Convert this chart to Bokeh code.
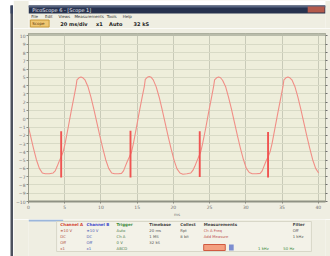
from bokeh.plotting import figure
from bokeh.models import Range1d, LinearAxis, FixedTicker, BoxAnnotation, ColumnDataSource
from bokeh.layouts import row, column
from bokeh.embed import file_html
from bokeh.resources import INLINE
from bokeh.core.properties import value

# ---------------- data ----------------
time_ms = [
    0.00, 0.41, 0.68, 1.09, 1.50, 1.91, 2.32, 2.87,
    3.41, 3.69, 3.96, 4.23, 4.51, 4.78, 5.05, 5.46, 5.87, 6.28, 6.56, 6.69, 6.97, 7.24,
    7.51, 7.79, 8.20, 8.61, 9.02, 9.43, 9.84, 10.25, 10.66, 11.07, 11.48, 11.89, 12.43,
    12.84, 13.12, 13.39, 13.66, 13.94, 14.21, 14.48, 14.89, 15.30, 15.71, 15.99, 16.12, 16.40, 16.67,
    16.94, 17.22, 17.63, 18.04, 18.45, 18.86, 19.27, 19.68, 20.09, 20.50, 20.91, 21.32, 21.86,
    22.41, 22.69, 22.96, 23.23, 23.51, 23.78, 24.05, 24.46, 24.87, 25.28, 25.56, 25.69, 25.97, 26.24,
    26.51, 26.79, 27.20, 27.61, 28.02, 28.43, 28.84, 29.25, 29.66, 30.07, 30.48, 30.89, 31.43,
    31.98, 32.26, 32.53, 32.80, 33.08, 33.35, 33.62, 34.03, 34.44, 34.85, 35.13, 35.26, 35.54, 35.81,
    36.08, 36.36, 36.77, 37.18, 37.59, 38.00, 38.41, 38.82, 39.23, 39.64, 40.05,
]
volts = [
    -1.0, -2.55, -3.55, -4.95, -6.0, -6.55, -6.65, -6.65,
    -6.55, -6.3, -5.75, -5.15, -4.6, -4.0, -3.0, -1.15, 0.8, 2.65, 3.9, 4.7, 4.95, 5.05,
    4.95, 4.7, 3.9, 2.65, 1.15, -0.45, -2.05, -3.55, -4.95, -6.0, -6.55, -6.65, -6.65,
    -6.6, -6.3, -5.7, -5.1, -4.6, -4.05, -3.0, -1.1, 0.85, 2.7, 3.9, 4.75, 5.0, 5.1,
    5.0, 4.7, 3.85, 2.6, 1.1, -0.5, -2.1, -3.6, -5.0, -6.05, -6.55, -6.7, -6.65,
    -6.55, -6.25, -5.75, -5.15, -4.55, -4.0, -2.95, -1.15, 0.8, 2.65, 3.95, 4.7, 4.95, 5.05,
    4.95, 4.65, 3.9, 2.6, 1.15, -0.45, -2.05, -3.55, -4.9, -6.0, -6.5, -6.65, -6.65,
    -6.6, -6.3, -5.7, -5.1, -4.6, -4.0, -3.0, -1.1, 0.8, 2.65, 3.9, 4.7, 4.95, 5.05,
    4.95, 4.7, 3.9, 2.65, 1.15, -0.45, -2.05, -3.55, -4.95, -6.0, -6.55,
]
spike_time = [4.51, 14.08, 23.64, 33.07]
spike_high = [-1.5, -1.45, -1.5, -1.6]
spike_low = [-7.1, -7.1, -7.05, -7.1]

x_ticks = [0, 5, 10, 15, 20, 25, 30, 35, 40]
y_ticks = [-10, -9, -8, -7, -6, -5, -4, -3, -2, -1, 0, 1, 2, 3, 4, 5, 6, 7, 8, 9, 10]

title_text = "PicoScope 6 - [Scope 1]"
menu_items = ["File", "Edit", "Views", "Measurements", "Tools", "Help"]
toolbar_items = ["20 ms/div", "x1", "Auto", "32 kS"]

panel_headers = ["Channel A", "Channel B", "Trigger", "Timebase", "Collect", "Measurements", "Filter"]
panel_header_colors = ["#d2402e", "#4048c8", "#3c8a3c", "#444444", "#444444", "#444444", "#444444"]
panel_rows = [
    ["±10 V", "DC", "Off", "x1"],
    ["±10 V", "DC", "Off", "x1"],
    ["Auto", "Ch A", "0 V", "ABCD"],
    ["20 ms", "1 MS", "32 kS", ""],
    ["Rpt", "8 bit", "", ""],
    ["Ch A  Freq", "Add Measure", "", ""],
    ["Off", "1 kHz", "", ""],
]

assert len(time_ms) == len(volts)

WIN_BG = "#efeee2"
PLOT_BG = "#eeeedb"
FONT = value("DejaVu Sans")
TOTAL_H = 256

# ---------------- left window border ----------------
left = figure(width=13, height=TOTAL_H, x_range=Range1d(0, 13), y_range=Range1d(TOTAL_H, 0),
              output_backend="svg", toolbar_location=None, min_border=0,
              x_axis_location=None, y_axis_location=None,
              background_fill_color="white", border_fill_color="white", outline_line_color=None)
left.grid.visible = False
left.quad(left=[10], right=[13], top=[5], bottom=[TOTAL_H], fill_color="#4d525e", line_color=None)
left.quad(left=[10], right=[13], top=[5], bottom=[13], fill_color="#3a4560", line_color=None)

# ---------------- title / menu / toolbar ----------------
W = 317
TH = 28
top = figure(width=W, height=TH, x_range=Range1d(0, W), y_range=Range1d(TH, 0),
             output_backend="svg", toolbar_location=None, min_border=0,
             x_axis_location=None, y_axis_location=None,
             background_fill_color=WIN_BG, border_fill_color=WIN_BG, outline_line_color=None)
top.grid.visible = False
top.quad(left=[0], right=[W], top=[0], bottom=[5], fill_color="white", line_color=None)
top.quad(left=[0], right=[W], top=[5], bottom=[13], fill_color="#27324e", line_color=None)
top.quad(left=[0], right=[W], top=[5], bottom=[7], fill_color="#56637f", line_color=None)
top.quad(left=[298], right=[316], top=[6], bottom=[12], fill_color="#b45a4c", line_color=None)
top.text(x=[4], y=[9.3], text=[title_text], text_font=FONT, text_font_size="5px",
         text_color="#e8ecf4", text_baseline="middle")
mx, cur = [], 3.0
for m in menu_items:
    mx.append(cur)
    cur += len(m) * 2.5 + 4.5
top.text(x=mx, y=[15.8] * len(menu_items), text=menu_items, text_font=FONT, text_font_size="4px",
         text_color="#333333", text_baseline="middle")
top.quad(left=[2], right=[22], top=[19.5], bottom=[26.5], fill_color="#efc772", line_color="#c89a3a")
top.text(x=[4], y=[23], text=["Scope"], text_font=FONT, text_font_size="4px",
         text_color="#5a3a10", text_baseline="middle")
tx = [34, 72, 86, 112]
top.text(x=tx, y=[23] * 4, text=toolbar_items, text_font=FONT, text_font_size="5px",
         text_font_style="bold", text_color="#222222", text_baseline="middle")

# ---------------- main scope view ----------------
main = figure(width=W, height=191, x_range=Range1d(0, 41), y_range=Range1d(-10, 10.3),
              output_backend="svg", toolbar_location=None,
              min_border_left=12, min_border_right=5, min_border_top=5, min_border_bottom=12,
              background_fill_color=PLOT_BG, border_fill_color=WIN_BG,
              outline_line_color="#a9ab9a", outline_line_width=1)

for ax in (main.xaxis[0], main.yaxis[0]):
    ax.major_label_text_font = "DejaVu Sans"
    ax.major_label_text_color = "#707070"
    ax.major_tick_out = 2
    ax.major_tick_in = 0
    ax.minor_tick_out = 0
    ax.minor_tick_in = 0
    ax.major_tick_line_color = "#8a8a80"
    ax.major_label_standoff = 1

main.yaxis.ticker = FixedTicker(ticks=y_ticks)
main.yaxis.major_label_text_font_size = "4.5px"
main.yaxis.axis_line_color = "#9a9c8c"

main.xaxis.ticker = FixedTicker(ticks=x_ticks)
main.xaxis.major_label_text_font_size = "4.5px"
main.xaxis.axis_line_color = "#8f9184"
main.xaxis.axis_line_width = 2
main.xaxis.axis_label = "ms"
main.xaxis.axis_label_text_font = "DejaVu Sans"
main.xaxis.axis_label_text_font_size = "4px"
main.xaxis.axis_label_text_font_style = "normal"
main.xaxis.axis_label_text_color = "#707070"
main.xaxis.axis_label_standoff = 0

right_axis = LinearAxis(ticker=FixedTicker(ticks=y_ticks),
                        major_label_overrides={t: "" for t in y_ticks},
                        major_tick_out=2, major_tick_in=0, minor_tick_out=0, minor_tick_in=0,
                        major_tick_line_color="#707070", axis_line_color="#a9ab9a")
main.add_layout(right_axis, "right")

main.xgrid.ticker = FixedTicker(ticks=x_ticks)
main.xgrid.grid_line_color = "#c8cab8"
main.ygrid.ticker = FixedTicker(ticks=y_ticks)
main.ygrid.grid_line_color = "#d8dac6"

main.add_layout(BoxAnnotation(bottom=10, fill_color="#b9bcab", fill_alpha=1.0, line_color=None))

src = ColumnDataSource(dict(t=time_ms, v=volts))
main.line("t", "v", source=src, line_color="#f08e86", line_width=1.1)
main.segment(x0=spike_time, y0=spike_low, x1=spike_time, y1=spike_high,
             line_color="#f05452", line_width=1.9)

# ---------------- bottom control panel ----------------
H = 37
bot = figure(width=W, height=H, x_range=Range1d(0, W), y_range=Range1d(H, 0),
             output_backend="svg", toolbar_location=None, min_border=0,
             x_axis_location=None, y_axis_location=None,
             background_fill_color=WIN_BG, border_fill_color=WIN_BG, outline_line_color=None)
bot.grid.visible = False
bot.quad(left=[0], right=[37], top=[0], bottom=[2], fill_color="#9bb6dc", line_color=None)
bot.quad(left=[30], right=[302], top=[2], bottom=[32], fill_color="#f3f2e8", line_color="#d8d7c8")

col_x = [34, 62, 94, 129, 162, 187, 282]
bot.text(x=col_x, y=[5] * len(panel_headers), text=panel_headers, text_color=panel_header_colors,
         text_font=FONT, text_font_size="4px", text_font_style="bold", text_baseline="middle")
rx, ry, rt, rc = [], [], [], []
row_colors = ["#b05040", "#5058b0", "#4a7a4a", "#555555", "#555555", "#c05050", "#555555"]
for i, rows in enumerate(panel_rows):
    for j, s in enumerate(rows):
        if s:
            rx.append(col_x[i]); ry.append(10.5 + j * 6); rt.append(s); rc.append(row_colors[i])
bot.text(x=rx, y=ry, text=rt, text_color=rc, text_font=FONT, text_font_size="3.8px",
         text_baseline="middle")
bot.quad(left=[187], right=[210], top=[25], bottom=[31], fill_color="#f4a080", line_color="#d05a40")
bot.quad(left=[214], right=[219], top=[25], bottom=[31], fill_color="#7c8ed0", line_color=None)
bot.text(x=[245, 272], y=[28.5, 28.5], text=["1 kHz", "50 Hz"], text_color="#3a8a3a",
         text_font=FONT, text_font_size="3.8px", text_baseline="middle")

layout = row(left, column(top, main, bot, spacing=0), spacing=0)

with open("out.html", "w") as f:
    f.write(file_html(layout, INLINE))
